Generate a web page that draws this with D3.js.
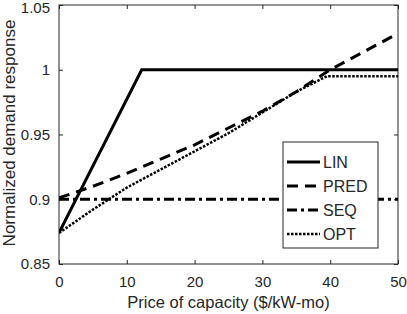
<!DOCTYPE html>
<html><head><meta charset="utf-8">
<script src="https://cdn.jsdelivr.net/npm/d3@7"></script>
<style>body{margin:0;background:#fff}svg{display:block}text{font-family:"Liberation Sans",Arial,sans-serif;fill:#262626}</style>
</head><body>
<script>
const xTicks = [0,10,20,30,40,50];
const yTicks = [0.85,0.9,0.95,1,1.05];
const yTickLabels = ["0.85","0.9","0.95","1","1.05"];
const linX = [0,12.2,50];
const linY = [0.874,1.0,1.0];
const predX = [0,5,10,15,20,25,30,35,40,45,50];
const predY = [0.901,0.910,0.920,0.931,0.942,0.955,0.968,0.983,1.000,1.014,1.028];
const seqX = [0,50];
const seqY = [0.9,0.9];
const optX = [0,5,10,15,20,25,30,35,39.5,50];
const optY = [0.874,0.892,0.909,0.923,0.937,0.951,0.967,0.983,0.995,0.995];
const seriesNames = ["LIN","PRED","SEQ","OPT"];
const xLabel = "Price of capacity ($/kW-mo)";
const yLabel = "Normalized demand response";

const W=407,H=314;
const m={l:59,r:398,t:5,b:264};
const svg=d3.select("body").append("svg").attr("width",W).attr("height",H);
const x=d3.scaleLinear().domain([0,50]).range([m.l,m.r]);
const y=d3.scaleLinear().domain([0.85,1.05]).range([m.b,m.t]);
const axCol="#262626";

svg.append("rect").attr("x",m.l).attr("y",m.t).attr("width",m.r-m.l).attr("height",m.b-m.t)
  .attr("fill","none").attr("stroke",axCol).attr("stroke-width",1);

const tl=4;
const xa=d3.axisBottom(x).tickValues(xTicks).tickSizeInner(-tl).tickSizeOuter(0).tickPadding(12);
const gx=svg.append("g").attr("transform",`translate(0,${m.b})`).call(xa);
const gxt=svg.append("g").attr("transform",`translate(0,${m.t})`).call(d3.axisTop(x).tickValues(xTicks).tickSizeInner(-tl).tickSizeOuter(0).tickFormat(""));
const ya=d3.axisLeft(y).tickValues(yTicks).tickSizeInner(-tl).tickSizeOuter(0).tickPadding(9).tickFormat((d,i)=>yTickLabels[i]);
const gy=svg.append("g").attr("transform",`translate(${m.l},0)`).call(ya);
const gyr=svg.append("g").attr("transform",`translate(${m.r},0)`).call(d3.axisRight(y).tickValues(yTicks).tickSizeInner(-tl).tickSizeOuter(0).tickFormat(""));
[gx,gxt,gy,gyr].forEach(g=>{
  g.select(".domain").remove();
  g.selectAll("line").attr("stroke",axCol);
  g.selectAll("text").attr("font-size",15).attr("font-family","Liberation Sans, Arial, sans-serif").attr("fill",axCol);
});
gy.selectAll("text").filter(d=>d===1.05).attr("dy","0.5em");

svg.append("text").attr("x",(m.l+m.r)/2).attr("y",308).attr("text-anchor","middle").attr("font-size",16.5).text(xLabel);
svg.append("text").attr("transform",`translate(15,${133}) rotate(-90)`).attr("text-anchor","middle").attr("font-size",17).text(yLabel);

const line=d3.line().x(d=>x(d[0])).y(d=>y(d[1]));
const styles=[
  {dash:null,w:3},
  {dash:"11,7",w:3},
  {dash:"10,4,3,4",w:3},
  {dash:"2.5,1.5",w:2.5}
];
const data=[[linX,linY],[predX,predY],[seqX,seqY],[optX,optY]];
svg.append("clipPath").attr("id","c").append("rect").attr("x",m.l).attr("y",m.t).attr("width",m.r-m.l).attr("height",m.b-m.t);
data.forEach((s,i)=>{
  const pts=s[0].map((v,j)=>[v,s[1][j]]);
  svg.append("path").attr("d",line(pts)).attr("fill","none").attr("stroke","#000")
    .attr("stroke-width",styles[i].w).attr("stroke-dasharray",styles[i].dash).attr("clip-path","url(#c)");
});

const lg=svg.append("g");
lg.append("rect").attr("x",283).attr("y",142).attr("width",95).attr("height",106).attr("fill","#fff").attr("stroke",axCol).attr("stroke-width",1);
const ly=[162,186,210,234];
seriesNames.forEach((n,i)=>{
  lg.append("line").attr("x1",287).attr("x2",320).attr("y1",ly[i]).attr("y2",ly[i]).attr("stroke","#000")
    .attr("stroke-width",styles[i].w).attr("stroke-dasharray",styles[i].dash);
  lg.append("text").attr("x",323).attr("y",ly[i]).attr("dy","0.36em").attr("font-size",16).text(n);
});
</script>
</body></html>
